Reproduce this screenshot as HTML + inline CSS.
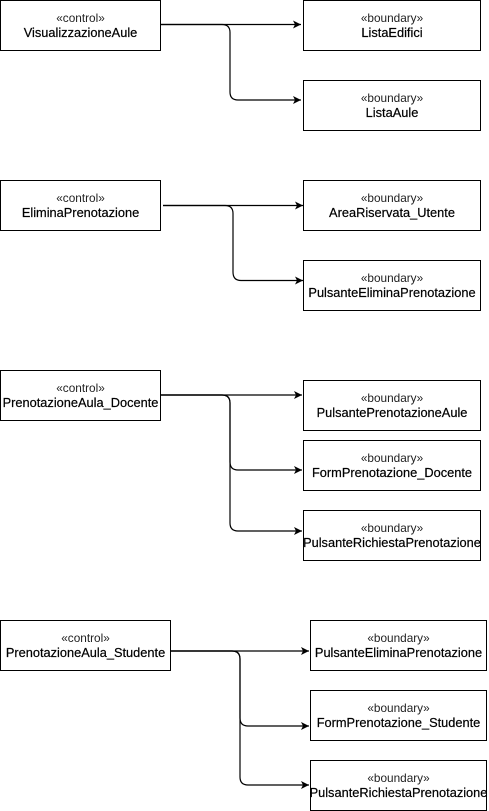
<!DOCTYPE html>
<html><head><meta charset="utf-8"><style>
html,body{margin:0;padding:0;background:#fff;}
svg{display:block;}
text{font-family:"Liberation Sans",Arial,sans-serif;font-size:12.8px;fill:#000;text-anchor:middle;stroke:#000;stroke-width:0.2;}
.s{fill:#222;font-size:11.8px;stroke:none;}
rect{fill:#fff;stroke:#000;stroke-width:1;}
path.l{fill:none;stroke:#000;stroke-width:1.2;}
</style></head><body>
<svg width="489" height="811" viewBox="0 0 489 811" xmlns="http://www.w3.org/2000/svg">
<defs><marker id="a" markerWidth="10" markerHeight="10" refX="8" refY="4" orient="auto" markerUnits="userSpaceOnUse"><path d="M0,0 L8,4 L0,8 L2,4 Z" fill="#000"/></marker></defs>

<!-- Section 1 -->
<rect x="0.5" y="0.5" width="160" height="50"/>
<text class="s" x="80.5" y="22">«control»</text><text x="80.5" y="37">VisualizzazioneAule</text>
<rect x="303.5" y="0.5" width="177" height="50"/>
<text class="s" x="392" y="22">«boundary»</text><text x="392" y="37">ListaEdifici</text>
<rect x="303.5" y="80.5" width="177" height="50"/>
<text class="s" x="392" y="102">«boundary»</text><text x="392" y="117">ListaAule</text>
<path class="l" d="M161,24.5 H301" marker-end="url(#a)"/>
<path class="l" d="M161,24.5 H222 Q230,24.5 230,32.5 V92 Q230,100 238,100 H301" marker-end="url(#a)"/>

<!-- Section 2 -->
<rect x="0.5" y="180.5" width="160" height="50"/>
<text class="s" x="80.5" y="202">«control»</text><text x="80.5" y="217">EliminaPrenotazione</text>
<rect x="303.5" y="180.5" width="177" height="50"/>
<text class="s" x="392" y="202">«boundary»</text><text x="392" y="217">AreaRiservata_Utente</text>
<rect x="303.5" y="260.5" width="177" height="50"/>
<text class="s" x="392" y="282">«boundary»</text><text x="392" y="297">PulsanteEliminaPrenotazione</text>
<path class="l" d="M163,205.5 H303" marker-end="url(#a)"/>
<path class="l" d="M163,205.5 H225 Q233,205.5 233,213.5 V272 Q233,280.5 241,280.5 H303" marker-end="url(#a)"/>

<!-- Section 3 -->
<rect x="0.5" y="370.5" width="160" height="50"/>
<text class="s" x="80.5" y="392">«control»</text><text x="80.5" y="407">PrenotazioneAula_Docente</text>
<rect x="303.5" y="380.5" width="177" height="50"/>
<text class="s" x="392" y="402">«boundary»</text><text x="392" y="417">PulsantePrenotazioneAule</text>
<rect x="303.5" y="440.5" width="177" height="50"/>
<text class="s" x="392" y="462">«boundary»</text><text x="392" y="477">FormPrenotazione_Docente</text>
<rect x="303.5" y="510.5" width="177" height="50"/>
<text class="s" x="392" y="532">«boundary»</text><text x="392" y="547">PulsanteRichiestaPrenotazione</text>
<path class="l" d="M161,395 H302" marker-end="url(#a)"/>
<path class="l" d="M161,395 H222 Q230,395 230,403 V462 Q230,470 238,470 H302" marker-end="url(#a)"/>
<path class="l" d="M161,395 H222 Q230,395 230,403 V523 Q230,531 238,531 H302" marker-end="url(#a)"/>

<!-- Section 4 -->
<rect x="0.5" y="620.5" width="170" height="50"/>
<text class="s" x="85.5" y="642">«control»</text><text x="85.5" y="657">PrenotazioneAula_Studente</text>
<rect x="310.5" y="620.5" width="176" height="50"/>
<text class="s" x="398.5" y="642">«boundary»</text><text x="398.5" y="657">PulsanteEliminaPrenotazione</text>
<rect x="310.5" y="690.5" width="176" height="50"/>
<text class="s" x="398.5" y="712">«boundary»</text><text x="398.5" y="727">FormPrenotazione_Studente</text>
<rect x="310.5" y="760.5" width="176" height="50"/>
<text class="s" x="398.5" y="782">«boundary»</text><text x="398.5" y="797">PulsanteRichiestaPrenotazione</text>
<path class="l" d="M171,651 H309" marker-end="url(#a)"/>
<path class="l" d="M171,651 H232 Q240,651 240,659 V718 Q240,726 248,726 H309" marker-end="url(#a)"/>
<path class="l" d="M171,651 H232 Q240,651 240,659 V777 Q240,785 248,785 H309" marker-end="url(#a)"/>
</svg>
</body></html>
